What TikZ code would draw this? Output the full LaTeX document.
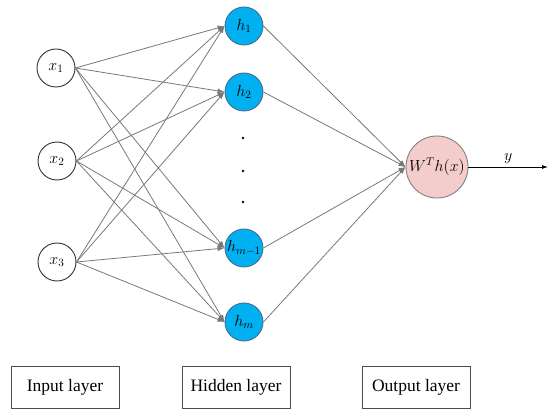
\RequirePackage{fix-cm}
\documentclass[tikz,border=0pt]{standalone}
\usepackage{fontspec}
\setmainfont{Liberation Serif}
\usetikzlibrary{arrows.meta}
\definecolor{hidblue}{RGB}{0,176,240}
\definecolor{hidedge}{RGB}{70,110,140}
\definecolor{outpink}{RGB}{244,204,204}
\definecolor{linegray}{RGB}{120,120,120}
\begin{document}
\begin{tikzpicture}[x=1pt, y=-1pt,
    font=\fontsize{16}{19}\selectfont,
    inneuron/.style={circle, draw=black!80, fill=white, line width=0.9pt, minimum size=38pt, inner sep=0pt},
    hidneuron/.style={circle, draw=hidedge, fill=hidblue, line width=0.9pt, minimum size=38pt, inner sep=0pt},
    outneuron/.style={circle, draw=gray, fill=outpink, line width=0.9pt, minimum size=62pt, inner sep=0pt},
    layerbox/.style={draw=black!70, line width=0.7pt, minimum width=108pt, minimum height=42pt, font=\fontsize{17.5}{21}\selectfont},
    link/.style={draw=linegray, line width=0.8pt, -{Latex[length=7pt,width=5pt]}}]
    \useasboundingbox (0,0) rectangle (550,414);

    % Input layer
    \node[inneuron] (X1) at (56,68) {$x_1$};
    \node[inneuron] (X2) at (57,161) {$x_2$};
    \node[inneuron] (X3) at (57,262) {$x_3$};

    % Hidden layer
    \node[hidneuron] (H1) at (244,26) {$h_1$};
    \node[hidneuron] (H2) at (244,92) {$h_2$};
    \node[hidneuron] (HM1) at (244,248) {$h_{m-1}$};
    \node[hidneuron] (HM) at (244,322) {$h_m$};
    \foreach \y in {138,171,202}
        \fill (243,\y) circle (1.3pt);

    % Output layer
    \node[outneuron] (Y) at (437,167) {$W^Th(x)$};
    \coordinate (Yend) at (548,167);

    % Connections
    \foreach \i in {1,2,3}
        \foreach \j in {1,2,M1,M}
            \draw[link] (X\i.east) -- (H\j.west);
    \foreach \j in {1,2,M1,M}
        \draw[link] (H\j.east) -- (Y.west);
    \draw[line width=0.8pt, -{Latex[length=6pt,width=4pt]}] (Y.east) -- node[above] {$y$} (Yend);

    % Layer labels
    \node[layerbox] (InBox) at (65,387) {Input layer};
    \node[layerbox] (HidBox) at (236,387) {Hidden layer};
    \node[layerbox] (OutBox) at (416,387) {Output layer};

\end{tikzpicture}
\end{document}
